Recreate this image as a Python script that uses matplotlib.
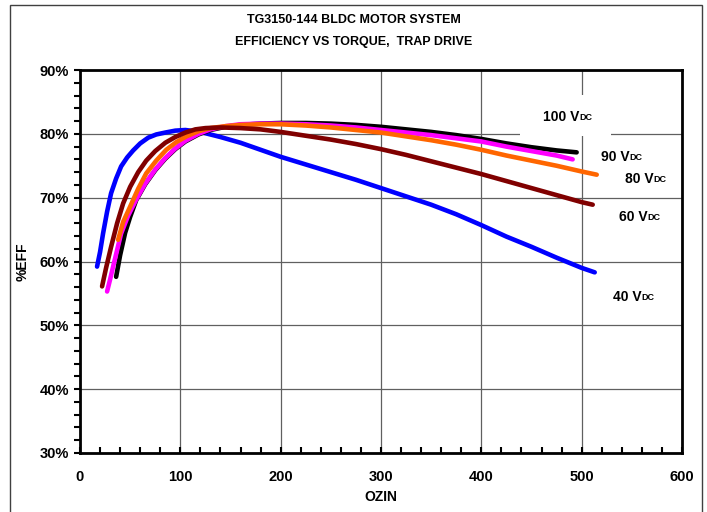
import matplotlib
matplotlib.use('Agg')
import matplotlib.pyplot as plt
from matplotlib.ticker import MultipleLocator, PercentFormatter
from matplotlib.patches import Rectangle

plt.rcParams['font.family'] = ['Liberation Sans', 'DejaVu Sans']
plt.rcParams['font.weight'] = 'bold'

# torque (OZIN) and efficiency (%) per supply voltage
x_40 = [17, 20, 23, 27, 31, 36, 41, 47, 53, 60, 68, 76, 85, 95, 105, 115, 125, 140, 160,
        180, 200, 225, 250, 275, 300, 325, 350, 375, 400, 425, 450, 475, 500, 513]
eff_40 = [59.2, 61.5, 64.4, 67.8, 70.7, 73.0, 74.9, 76.3, 77.4, 78.5, 79.4, 79.9, 80.2, 80.5,
          80.6, 80.4, 80.1, 79.5, 78.6, 77.5, 76.4, 75.2, 74.0, 72.8, 71.5, 70.2, 68.9, 67.4,
          65.7, 63.9, 62.3, 60.6, 59.0, 58.3]

x_60 = [22, 26, 31, 37, 43, 50, 58, 66, 75, 85, 95, 105, 115, 125, 140, 160, 180, 200, 225,
        250, 275, 300, 325, 350, 375, 400, 425, 450, 475, 500, 511]
eff_60 = [56.1, 59.0, 62.3, 66.0, 69.1, 71.7, 74.0, 75.8, 77.3, 78.6, 79.5, 80.2, 80.7, 80.9,
          81.0, 80.9, 80.7, 80.3, 79.7, 79.1, 78.4, 77.6, 76.7, 75.7, 74.7, 73.7, 72.6, 71.5,
          70.4, 69.3, 68.9]

x_80 = [38, 43, 50, 58, 66, 76, 86, 96, 106, 118, 130, 145, 160, 180, 200, 225, 250, 275,
        300, 325, 350, 375, 400, 425, 450, 475, 500, 515]
eff_80 = [63.4, 66.2, 68.6, 71.4, 73.8, 75.8, 77.5, 78.7, 79.6, 80.4, 80.9, 81.2, 81.4, 81.5,
          81.5, 81.3, 81.0, 80.6, 80.2, 79.6, 79.0, 78.3, 77.5, 76.6, 75.8, 75.0, 74.1, 73.6]

x_90 = [27, 30, 33, 37, 41, 48, 56, 65, 75, 85, 95, 105, 118, 130, 145, 160, 180, 200, 225,
        250, 275, 300, 325, 350, 375, 400, 425, 450, 475, 491]
eff_90 = [55.3, 57.2, 59.2, 61.8, 64.4, 67.2, 69.7, 72.2, 74.4, 76.2, 77.7, 78.9, 80.0, 80.7,
          81.2, 81.5, 81.6, 81.6, 81.5, 81.3, 81.0, 80.6, 80.2, 79.8, 79.3, 78.8, 78.0, 77.3,
          76.6, 76.0]

x_100 = [36, 40, 45, 50, 56, 65, 75, 85, 95, 105, 118, 130, 145, 160, 180, 200, 225, 250,
         275, 300, 325, 350, 375, 400, 425, 450, 475, 495]
eff_100 = [57.6, 61.0, 64.5, 67.0, 69.6, 72.1, 74.3, 76.1, 77.6, 78.8, 79.9, 80.6, 81.1, 81.4,
           81.6, 81.7, 81.7, 81.6, 81.4, 81.1, 80.7, 80.3, 79.8, 79.2, 78.5, 77.9, 77.4, 77.1]

fig = plt.figure(figsize=(7.07, 5.12), dpi=100)
ax = fig.add_axes([80/707, 1-453/512, 602/707, 383/512])

# figure frame
fig.patches.append(Rectangle((10/707, -0.1), 692/707, 1.1 - 5/512, transform=fig.transFigure,
                             fill=False, ec='#404040', lw=1.0))

lw = 3.3
ax.plot(x_40, eff_40, color='#0000FF', lw=lw, solid_capstyle='round', zorder=3)
ax.plot(x_100, eff_100, color='black', lw=lw, solid_capstyle='round', zorder=3)
ax.plot(x_90, eff_90, color='#FF00FF', lw=lw, solid_capstyle='round', zorder=3)
ax.plot(x_80, eff_80, color='#FF6600', lw=lw, solid_capstyle='round', zorder=3)
ax.plot(x_60, eff_60, color='#800000', lw=lw, solid_capstyle='round', zorder=3)

ax.set_xlim(0, 600)
ax.set_ylim(30, 90)
ax.xaxis.set_major_locator(MultipleLocator(100))
ax.xaxis.set_minor_locator(MultipleLocator(20))
ax.yaxis.set_major_locator(MultipleLocator(10))
ax.yaxis.set_minor_locator(MultipleLocator(2))
ax.yaxis.set_major_formatter(PercentFormatter(decimals=0))
ax.grid(True, which='major', color='#606060', lw=0.9)
ax.set_axisbelow(True)

for s in ax.spines.values():
    s.set_linewidth(2.0)

ax.tick_params(axis='x', which='both', direction='in', length=4, width=1.5, pad=12.5,
               labelsize=10.5)
ax.tick_params(axis='y', which='both', direction='out', length=4, width=1.5, pad=4,
               labelsize=10.5)
for lab in ax.get_xticklabels() + ax.get_yticklabels():
    lab.set_fontweight('bold')

ax.set_xlabel('OZIN', fontsize=10, fontweight='bold', labelpad=4)
ax.set_ylabel('%EFF', fontsize=10, fontweight='bold', labelpad=7)

fig.text(0.5, 1-20/512, 'TG3150-144 BLDC MOTOR SYSTEM', ha='center', va='center',
         fontsize=9, fontweight='bold')
fig.text(0.5, 1-42/512, 'EFFICIENCY VS TORQUE,  TRAP DRIVE', ha='center', va='center',
         fontsize=9, fontweight='bold')

# white box behind the 100 V label
ax.add_patch(Rectangle((439, 79.6), 90, 6.5, fc='white', ec='none', zorder=1.5))

# series labels
labels = ['100 V', '90 V', '80 V', '60 V', '40 V']
label_pos = [(461, 82.7), (519, 76.4), (543, 72.9), (537, 67.0), (531, 54.5)]
for txt, (lx, ly) in zip(labels, label_pos):
    t = ax.text(lx, ly, txt, fontsize=10, fontweight='bold', ha='left', va='center',
                zorder=4)
    ax.annotate('DC', xy=(1, 0.14), xycoords=t, fontsize=6.5, fontweight='bold',
                ha='left', va='bottom', zorder=4)

fig.savefig('out.png', dpi=100)
